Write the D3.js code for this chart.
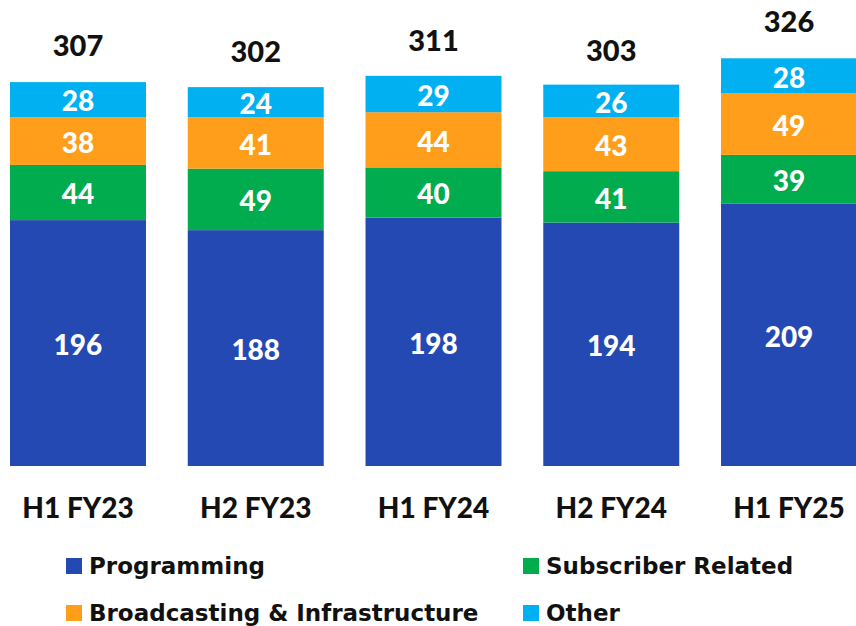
<!DOCTYPE html>
<html>
<head>
<meta charset="utf-8">
<script src="https://cdn.jsdelivr.net/npm/d3@7"></script>
<style>
  body { margin: 0; background: #fff; }
  svg { display: block; font-family: "Lato", "Open Sans", sans-serif; }
</style>
</head>
<body>
<svg id="chart" width="856" height="626"></svg>
<script>
var periods = ["H1 FY23", "H2 FY23", "H1 FY24", "H2 FY24", "H1 FY25"];
var seriesNames = ["Programming", "Subscriber Related", "Broadcasting & Infrastructure", "Other"];
var programming = [196, 188, 198, 194, 209];
var subscriber = [44, 49, 40, 41, 39];
var broadcasting = [38, 41, 44, 43, 49];
var other = [28, 24, 29, 26, 28];
var totals = [307, 302, 311, 303, 326];

var colors = {
    "Programming": "#2549B2",
    "Subscriber Related": "#00AC4E",
    "Broadcasting & Infrastructure": "#FF9E1B",
    "Other": "#00B0F0"
};

var rows = periods.map(function(p, i) {
    return {
        period: p,
        "Programming": programming[i],
        "Subscriber Related": subscriber[i],
        "Broadcasting & Infrastructure": broadcasting[i],
        "Other": other[i],
        total: totals[i]
    };
});

var svg = d3.select("#chart");

var x = d3.scaleBand()
    .domain(periods)
    .range([10, 857])
    .paddingInner(0.235)
    .paddingOuter(0);

var y = d3.scaleLinear()
    .domain([0, 330])
    .range([466, 466 - 414]);

var stack = d3.stack().keys(seriesNames);
var layers = stack(rows);

var layer = svg.selectAll("g.layer")
    .data(layers)
    .enter()
    .append("g")
    .attr("class", "layer")
    .attr("fill", function(d) { return colors[d.key]; });

layer.selectAll("rect")
    .data(function(d) { return d; })
    .enter()
    .append("rect")
    .attr("x", function(d) { return x(d.data.period); })
    .attr("y", function(d) { return y(d[1]); })
    .attr("width", x.bandwidth())
    .attr("height", function(d) { return y(d[0]) - y(d[1]); });

// segment values
layer.selectAll("text")
    .data(function(d) { return d; })
    .enter()
    .append("text")
    .attr("x", function(d) { return x(d.data.period) + x.bandwidth() / 2; })
    .attr("y", function(d) { return (y(d[0]) + y(d[1])) / 2; })
    .attr("dy", "0.42em")
    .attr("text-anchor", "middle")
    .style("font-size", "28px")
    .style("font-weight", 900)
    .style("fill", "#fff")
    .text(function(d) { return d[1] - d[0]; });

// totals above bars
svg.selectAll("text.total")
    .data(rows)
    .enter()
    .append("text")
    .attr("class", "total")
    .attr("x", function(d) { return x(d.period) + x.bandwidth() / 2; })
    .attr("y", function(d) { return y(d.total) - 25; })
    .attr("text-anchor", "middle")
    .style("font-size", "29px")
    .style("font-weight", 900)
    .style("fill", "#111")
    .text(function(d) { return d.total; });

// category labels
svg.selectAll("text.cat")
    .data(periods)
    .enter()
    .append("text")
    .attr("class", "cat")
    .attr("x", function(d) { return x(d) + x.bandwidth() / 2; })
    .attr("y", 518)
    .attr("text-anchor", "middle")
    .style("font-size", "28px")
    .style("font-weight", 900)
    .style("fill", "#111")
    .text(function(d) { return d; });

// legend
var legendPos = {
    "Programming": [66, 558],
    "Subscriber Related": [523, 558],
    "Broadcasting & Infrastructure": [66, 605],
    "Other": [523, 605]
};

var legend = svg.selectAll("g.legend")
    .data(seriesNames)
    .enter()
    .append("g")
    .attr("class", "legend")
    .attr("transform", function(d) { return "translate(" + legendPos[d][0] + "," + legendPos[d][1] + ")"; });

legend.append("rect")
    .attr("width", 16)
    .attr("height", 16)
    .attr("fill", function(d) { return colors[d]; });

legend.append("text")
    .attr("x", 23)
    .attr("y", 16)
    .style("font-family", "'DejaVu Sans', sans-serif")
    .style("font-size", "23px")
    .style("font-weight", "bold")
    .style("fill", "#111")
    .text(function(d) { return d; });
</script>
</body>
</html>
